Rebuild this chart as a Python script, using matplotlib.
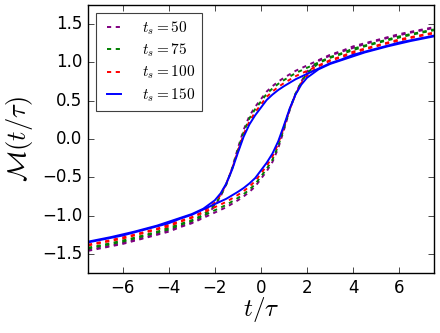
import matplotlib
matplotlib.use("Agg")
import matplotlib.pyplot as plt
import numpy as np

plt.style.use("classic")
plt.rcParams["mathtext.fontset"] = "cm"
plt.rcParams["lines.scale_dashes"] = False
plt.rcParams["font.family"] = ["DejaVu Sans"]

# upper branch of each loop (field sweeping down); the lower branch is its mirror image
x = [-7.5, -6.5, -5.5, -4.5, -3.5, -3.0, -2.5, -2.0, -1.75, -1.5, -1.25, -1.0,
     -0.75, -0.5, -0.25, 0.0, 0.25, 0.5, 0.75, 1.0, 1.5, 2.0, 2.5, 3.0, 3.5,
     4.0, 5.0, 6.0, 7.0, 7.5]

m_50 = [-1.45, -1.39, -1.32, -1.24, -1.14, -1.09, -1.02, -0.88, -0.75, -0.59,
        -0.38, -0.12, 0.12, 0.30, 0.42, 0.52, 0.62, 0.69, 0.75, 0.80, 0.89,
        0.96, 1.03, 1.10, 1.15, 1.21, 1.29, 1.37, 1.43, 1.46]
m_75 = [-1.42, -1.36, -1.29, -1.21, -1.11, -1.06, -0.99, -0.86, -0.74, -0.59,
        -0.39, -0.14, 0.09, 0.27, 0.39, 0.49, 0.59, 0.66, 0.72, 0.77, 0.86,
        0.93, 1.00, 1.07, 1.12, 1.18, 1.26, 1.34, 1.40, 1.43]
m_100 = [-1.38, -1.32, -1.25, -1.17, -1.07, -1.02, -0.95, -0.83, -0.73, -0.58,
         -0.39, -0.16, 0.06, 0.23, 0.35, 0.45, 0.55, 0.62, 0.68, 0.73, 0.82,
         0.89, 0.96, 1.03, 1.08, 1.14, 1.22, 1.30, 1.36, 1.39]
m_150 = [-1.34, -1.28, -1.21, -1.13, -1.03, -0.98, -0.91, -0.80, -0.71, -0.58,
         -0.40, -0.18, 0.03, 0.19, 0.31, 0.41, 0.51, 0.58, 0.64, 0.69, 0.78,
         0.85, 0.92, 0.99, 1.04, 1.10, 1.18, 1.26, 1.32, 1.35]

labels = [r"$t_s=50$", r"$t_s=75$", r"$t_s=100$", r"$t_s=150$"]
colors = ["purple", "g", "r", "b"]
series = [m_50, m_75, m_100, m_150]

fig = plt.figure(figsize=(4.4, 3.33), dpi=100, facecolor="white")
ax = fig.add_axes([0.2, 0.18, 0.786, 0.805])

xa = np.array(x)
for m, c, lab in zip(series, colors, labels):
    m = np.array(m)
    if c == "b":
        kw = dict(ls="-", lw=1.4)
    else:
        kw = dict(ls="--", dashes=(3, 3.3), lw=1.4)
    ax.plot(xa, m, color=c, label=lab, **kw)
    ax.plot(-xa[::-1], -m[::-1], color=c, **kw)

ax.set_xlim(-7.5, 7.5)
ax.set_ylim(-1.75, 1.75)
ax.set_xticks([-6, -4, -2, 0, 2, 4, 6])
ax.set_yticks([-1.5, -1.0, -0.5, 0.0, 0.5, 1.0, 1.5])
ax.tick_params(labelsize=12)
ax.set_xlabel(r"$t/\tau$", fontsize=18, labelpad=-1)
ax.set_ylabel(r"$\mathcal{M}(t/\tau)$", fontsize=19)

leg = ax.legend(loc="upper left", fontsize=11, labelspacing=0.3,
                handlelength=1.5, handletextpad=1.1, borderpad=0.45)
leg.get_frame().set_edgecolor("0.25")
leg.get_frame().set_linewidth(0.8)

fig.savefig("out.png", dpi=100, facecolor="white")
